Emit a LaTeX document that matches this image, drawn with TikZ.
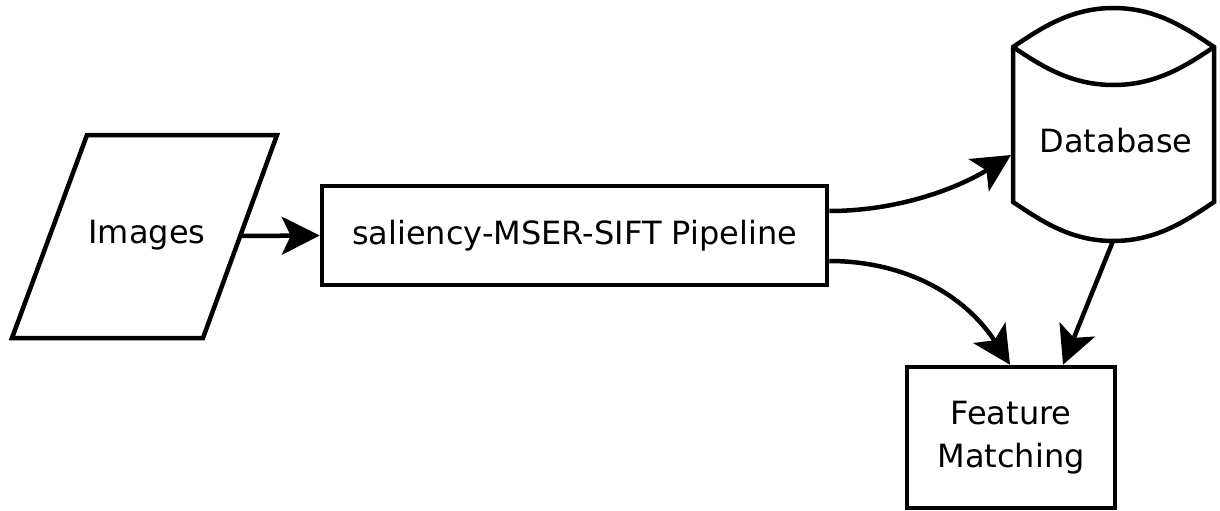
\documentclass[tikz,border=0pt]{standalone}
\usepackage{fontspec}
\setmainfont{DejaVu Sans}
\usetikzlibrary{arrows.meta,calc}
\begin{document}
\begin{tikzpicture}[x=1pt,y=-1pt,line width=4.5pt,
  txt/.style={font=\fontsize{32}{43}\selectfont,inner sep=0pt,align=center},
  box/.style={draw,rectangle,inner sep=0pt,txt},
  arr/.style={-{Stealth[length=38pt,width=38pt,inset=9pt]}}]
\useasboundingbox (0,0) rectangle (1220,511);
% Images (parallelogram)
\coordinate (p1) at (87,135);
\coordinate (p2) at (277,135);
\coordinate (p3) at (203,338);
\coordinate (p4) at (12,338);
\draw (p1) -- (p2) -- (p3) -- (p4) -- cycle;
\node[txt] (images) at (147,235) {Images};
\coordinate (imgout) at (240,236);
% Pipeline
\node[box,minimum width=505pt,minimum height=99pt] (pipe) at (574.5,235.5) {saliency-MSER-SIFT Pipeline};
% Database
\coordinate (dbtl) at (1013,47);
\coordinate (dbtr) at (1214,47);
\coordinate (dbbl) at (1013,202);
\coordinate (dbbr) at (1214,202);
\coordinate (dbbot) at (1113,241);
\draw (dbtl) .. controls (1040,29) and (1070,8) .. (1113.5,8) .. controls (1157,8) and (1187,29) .. (dbtr)
      -- (dbbr) .. controls (1187,220) and (1157,241) .. (dbbot) .. controls (1070,241) and (1040,220) .. (dbbl) -- cycle;
\draw (dbtl) .. controls (1040,65) and (1070,85) .. (1113.5,85) .. controls (1157,85) and (1187,65) .. (dbtr);
\node[txt] (db) at (1116,141) {Database};
\coordinate (dbin) at (1011,155);
% Feature Matching
\node[box,minimum width=208pt,minimum height=141pt] (fm) at (1011,437.5) {Feature\\Matching};
% connectors
\coordinate (pipeA) at (pipe.east |- 0,211);
\coordinate (pipeB) at (pipe.east |- 0,261);
\coordinate (fmA) at (fm.north -| 1010,0);
\coordinate (fmB) at (fm.north -| 1063,0);
\draw[arr] (imgout) -- (pipe.west);
\draw[arr] (pipeA) .. controls (900,211) and (960,187) .. (dbin);
\draw[arr] (pipeB) .. controls (905,261) and (965,295) .. (fmA);
\draw[arr] (dbbot) -- (fmB);
\end{tikzpicture}
\end{document}
